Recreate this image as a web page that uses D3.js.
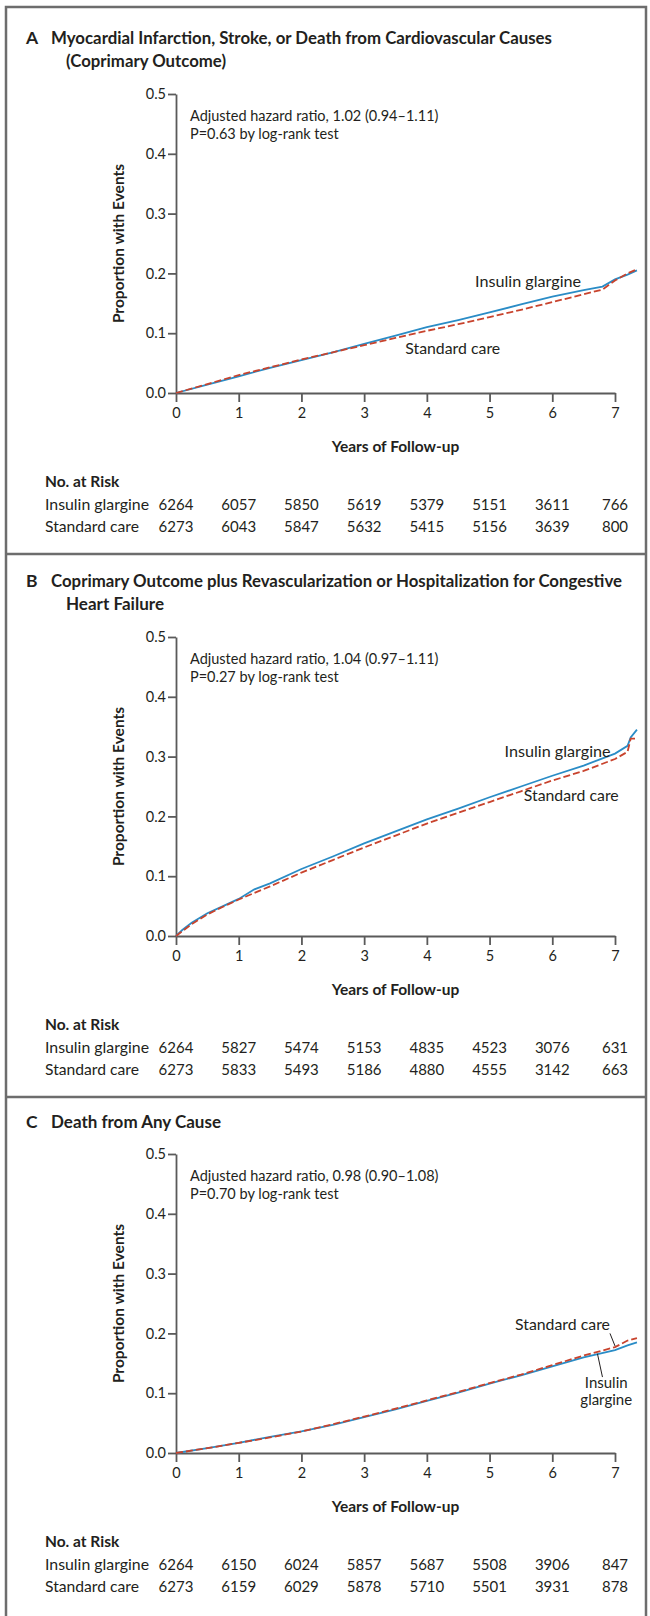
<!DOCTYPE html>
<html>
<head>
<meta charset="utf-8">
<script src="https://cdn.jsdelivr.net/npm/d3@7"></script>
<style>
  html, body { margin: 0; padding: 0; background: #fff; }
  svg { display: block; }
  text { font-family: Lato, "Open Sans", "DejaVu Sans", sans-serif; fill: #231f20; }
</style>
</head>
<body>
<svg id="chart" width="650" height="1616"></svg>
<script>
// ---- Data: cumulative proportion with events, by year of follow-up ----
const years = [0, 1, 2, 3, 4, 5, 6, 7];
const yTicks = [0.0, 0.1, 0.2, 0.3, 0.4, 0.5];

// Panel A: MI, stroke, or CV death
const timesA = [0, 0.5, 1, 1.5, 2, 2.5, 3, 3.5, 4, 4.5, 5, 5.5, 6, 6.5, 6.8, 7.0, 7.2, 7.35];
const glargineA = [0, 0.014, 0.028, 0.042, 0.055, 0.068, 0.082, 0.096, 0.110, 0.122, 0.135, 0.148, 0.161, 0.172, 0.178, 0.190, 0.198, 0.205];
const standardA = [0, 0.015, 0.030, 0.043, 0.056, 0.068, 0.080, 0.092, 0.104, 0.115, 0.127, 0.139, 0.152, 0.165, 0.173, 0.188, 0.200, 0.207];

// Panel B: coprimary outcome plus revascularization or CHF hospitalization
const timesB = [0, 0.1, 0.25, 0.5, 0.75, 1, 1.25, 1.5, 2, 2.5, 3, 3.5, 4, 4.5, 5, 5.5, 6, 6.5, 7, 7.2, 7.25, 7.35];
const glargineB = [0, 0.010, 0.022, 0.038, 0.050, 0.062, 0.078, 0.088, 0.112, 0.133, 0.155, 0.175, 0.195, 0.213, 0.232, 0.250, 0.268, 0.285, 0.305, 0.318, 0.332, 0.345];
const standardB = [0, 0.008, 0.020, 0.036, 0.049, 0.061, 0.072, 0.083, 0.106, 0.127, 0.148, 0.168, 0.188, 0.206, 0.224, 0.242, 0.260, 0.276, 0.296, 0.308, 0.330, 0.330];

// Panel C: death from any cause
const timesC = [0, 0.5, 1, 1.5, 2, 2.5, 3, 3.5, 4, 4.5, 5, 5.5, 6, 6.5, 7, 7.2, 7.35];
const glargineC = [0, 0.008, 0.017, 0.027, 0.036, 0.047, 0.060, 0.073, 0.087, 0.101, 0.116, 0.130, 0.145, 0.160, 0.172, 0.180, 0.185];
const standardC = [0, 0.008, 0.017, 0.026, 0.036, 0.048, 0.061, 0.074, 0.088, 0.102, 0.117, 0.131, 0.147, 0.163, 0.177, 0.188, 0.192];

// Numbers at risk at each year
const riskGlargineA = [6264, 6057, 5850, 5619, 5379, 5151, 3611, 766];
const riskStandardA = [6273, 6043, 5847, 5632, 5415, 5156, 3639, 800];
const riskGlargineB = [6264, 5827, 5474, 5153, 4835, 4523, 3076, 631];
const riskStandardB = [6273, 5833, 5493, 5186, 4880, 4555, 3142, 663];
const riskGlargineC = [6264, 6150, 6024, 5857, 5687, 5508, 3906, 847];
const riskStandardC = [6273, 6159, 6029, 5878, 5710, 5501, 3931, 878];

const panels = [
  {
    letter: "A",
    title: ["Myocardial Infarction, Stroke, or Death from Cardiovascular Causes", "(Coprimary Outcome)"],
    titleLen: [501, 160],
    stats: ["Adjusted hazard ratio, 1.02 (0.94\u20131.11)", "P=0.63 by log-rank test"],
    times: timesA, glargine: glargineA, standard: standardA,
    riskG: riskGlargineA, riskS: riskStandardA,
    top: 94,
    labels: [
      { lines: ["Insulin glargine"], x: 6.46, y: 0.177, anchor: "end", len: 106 },
      { lines: ["Standard care"], x: 5.17, y: 0.066, anchor: "end", len: 95 }
    ],
    leaders: []
  },
  {
    letter: "B",
    title: ["Coprimary Outcome plus Revascularization or Hospitalization for Congestive", "Heart Failure"],
    titleLen: [571, 98],
    stats: ["Adjusted hazard ratio, 1.04 (0.97\u20131.11)", "P=0.27 by log-rank test"],
    times: timesB, glargine: glargineB, standard: standardB,
    riskG: riskGlargineB, riskS: riskStandardB,
    top: 637,
    labels: [
      { lines: ["Insulin glargine"], x: 6.93, y: 0.300, anchor: "end", len: 106 },
      { lines: ["Standard care"], x: 7.06, y: 0.225, anchor: "end", len: 95 }
    ],
    leaders: []
  },
  {
    letter: "C",
    title: ["Death from Any Cause"],
    titleLen: [170],
    stats: ["Adjusted hazard ratio, 0.98 (0.90\u20131.08)", "P=0.70 by log-rank test"],
    times: timesC, glargine: glargineC, standard: standardC,
    riskG: riskGlargineC, riskS: riskStandardC,
    top: 1154,
    labels: [
      { lines: ["Standard care"], x: 6.92, y: 0.205, anchor: "end", len: 95 },
      { lines: ["Insulin", "glargine"], x: 6.86, y: 0.108, anchor: "middle" }
    ],
    leaders: [
      { x1: 6.92, y1: 0.200, x2: 7.0, y2: 0.179 },
      { x1: 6.8, y1: 0.127, x2: 6.72, y2: 0.166 }
    ]
  }
];

const svg = d3.select("#chart");
const plotLeft = 176, plotRight = 615, plotH = 299;
const blue = "#2a8cc6", red = "#c8432d", axisGray = "#5a5a5a", frameGray = "#6d6d6d";

const x = d3.scaleLinear().domain([0, 7]).range([plotLeft, plotRight]);

// Outer frame
const frameTop = 7, frameLeft = 6, frameRight = 646;
svg.append("path")
  .attr("d", `M${frameLeft},${1616} V${frameTop} H${frameRight} V${1616}`)
  .attr("fill", "none").attr("stroke", frameGray).attr("stroke-width", 2.5);

panels.forEach((p, i) => {
  const top = p.top, bottom = top + plotH;
  const y = d3.scaleLinear().domain([0, 0.5]).range([bottom, top]);
  const g = svg.append("g");

  // Title
  const titleBase = p.title.length === 2 ? top - 50 : top - 26;
  g.append("text").attr("x", 26).attr("y", titleBase)
    .attr("font-size", 17.5).attr("font-weight", 700).text(p.letter);
  p.title.forEach((t, k) => {
    g.append("text").attr("x", k === 0 ? 51 : 66).attr("y", titleBase + k * 23)
      .attr("font-size", 16.5).attr("font-weight", 700)
      .attr("textLength", p.titleLen[k]).attr("lengthAdjust", "spacingAndGlyphs")
      .text(t);
  });

  // Axes
  const yAxis = d3.axisLeft(y).tickValues(yTicks).tickFormat(d3.format(".1f"))
    .tickSize(8).tickSizeOuter(0).tickPadding(2);
  const ya = g.append("g").attr("transform", `translate(${plotLeft},0)`).call(yAxis);
  const xAxis = d3.axisBottom(x).tickValues(years).tickFormat(d3.format("d"))
    .tickSize(9).tickSizeOuter(0).tickPadding(6);
  const xa = g.append("g").attr("transform", `translate(0,${bottom})`).call(xAxis);
  [ya, xa].forEach(a => {
    a.selectAll("path, line").attr("stroke", axisGray).attr("stroke-width", 1.8);
    a.selectAll("text").attr("font-size", 14.5).attr("font-family", "Lato, sans-serif").attr("fill", "#231f20");
  });

  // Axis titles
  g.append("text")
    .attr("transform", `translate(124,${(top + bottom) / 2}) rotate(-90)`)
    .attr("text-anchor", "middle").attr("font-size", 15.5).attr("font-weight", 700)
    .text("Proportion with Events");
  g.append("text").attr("x", (plotLeft + plotRight) / 2).attr("y", bottom + 59)
    .attr("text-anchor", "middle").attr("font-size", 15.5).attr("font-weight", 700)
    .text("Years of Follow-up");

  // Statistics
  p.stats.forEach((s, k) => {
    g.append("text").attr("x", 190).attr("y", top + 27 + k * 18)
      .attr("font-size", 14.5).text(s);
  });

  // Curves
  const line = d3.line().x(d => x(d[0])).y(d => y(d[1])).curve(d3.curveLinear);
  g.append("path").datum(d3.zip(p.times, p.glargine))
    .attr("d", line).attr("fill", "none").attr("stroke", blue).attr("stroke-width", 1.8);
  g.append("path").datum(d3.zip(p.times, p.standard))
    .attr("d", line).attr("fill", "none").attr("stroke", red).attr("stroke-width", 1.8)
    .attr("stroke-dasharray", "7,3");

  // Curve labels and leader lines
  p.labels.forEach(l => {
    l.lines.forEach((t, k) => {
      const tx = g.append("text").attr("x", x(l.x)).attr("y", y(l.y) + k * 17)
        .attr("text-anchor", l.anchor).attr("font-size", 15).text(t);
      if (l.len) tx.attr("textLength", l.len).attr("lengthAdjust", "spacingAndGlyphs");
    });
  });
  p.leaders.forEach(l => {
    g.append("line").attr("x1", x(l.x1)).attr("y1", y(l.y1))
      .attr("x2", x(l.x2)).attr("y2", y(l.y2))
      .attr("stroke", "#231f20").attr("stroke-width", 1);
  });

  // Numbers at risk
  g.append("text").attr("x", 45).attr("y", bottom + 94)
    .attr("font-size", 15.5).attr("font-weight", 700).text("No. at Risk");
  [["Insulin glargine", p.riskG, 104], ["Standard care", p.riskS, 94]].forEach(([name, vals, len], k) => {
    const yy = bottom + 117 + k * 22;
    g.append("text").attr("x", 45).attr("y", yy).attr("font-size", 15)
      .attr("textLength", len).attr("lengthAdjust", "spacingAndGlyphs").text(name);
    g.selectAll(null).data(vals).enter().append("text")
      .attr("x", (d, j) => x(years[j])).attr("y", yy)
      .attr("text-anchor", "middle").attr("font-size", 15).text(d => d);
  });

  // Divider below panel
  if (i < panels.length - 1) {
    svg.append("line").attr("x1", frameLeft).attr("x2", frameRight)
      .attr("y1", bottom + 161).attr("y2", bottom + 161)
      .attr("stroke", frameGray).attr("stroke-width", 2.5);
  }
});
</script>
</body>
</html>
